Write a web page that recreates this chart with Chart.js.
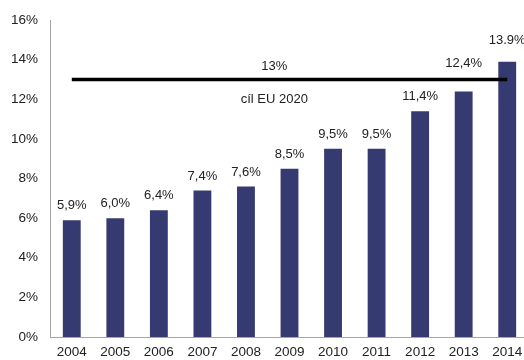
<!DOCTYPE html>
<html>
<head>
<meta charset="utf-8">
<script src="https://cdn.jsdelivr.net/npm/chart.js@4/dist/chart.umd.min.js"></script>
<style>
  html, body { margin: 0; padding: 0; background: #fff; overflow: hidden; }
  #wrap { width: 530px; height: 360px; position: relative; }
</style>
</head>
<body>
<div id="wrap"><canvas id="c"></canvas></div>
<script>
// podíl OZE na hrubé konečné spotřebě energie, 2004–2014, proti cíli EU 2020
const years = ['2004', '2005', '2006', '2007', '2008', '2009', '2010', '2011', '2012', '2013', '2014'];
const shares = [5.9, 6.0, 6.4, 7.4, 7.6, 8.5, 9.5, 9.5, 11.4, 12.4, 13.9];
const target = 13;
const targetLabel = 'cíl EU 2020';

const BAR = '#353a70';
const AXIS = '#a6a6a6';
const FONT = '"Liberation Sans", Arial, sans-serif';

// popisky hodnot: desetinná čárka, poslední rok má tečku
const valueLabels = shares.map((v, i) =>
  (i === shares.length - 1 ? v.toFixed(1) : v.toFixed(1).replace('.', ',')) + '%');

const barLabels = {
  id: 'barLabels',
  afterDatasetsDraw(chart) {
    const { ctx } = chart;
    const meta = chart.getDatasetMeta(1);
    const lineY = chart.scales.y.getPixelForValue(target);
    ctx.save();
    ctx.font = '13px ' + FONT;
    ctx.fillStyle = '#222';
    ctx.textAlign = 'center';
    ctx.textBaseline = 'bottom';
    meta.data.forEach((bar, i) => {
      let y = bar.y - 8;
      // popisek by přeškrtla cílová čára -> posunout nad ni
      if (y > lineY - 4 && y - 15 < lineY + 4) y = lineY - 10;
      if (i === meta.data.length - 1) y -= 7;
      ctx.fillText(valueLabels[i], bar.x, y);
    });

    // popis cílové čáry
    const x = chart.scales.x;
    const cx = x.getPixelForValue(4) + (x.getPixelForValue(5) - x.getPixelForValue(4)) * 0.65;
    ctx.textBaseline = 'middle';
    ctx.fillText(target + '%', cx, lineY - 13);
    ctx.fillText(targetLabel, cx, lineY + 20);
    ctx.restore();
  }
};

new Chart(document.getElementById('c'), {
  data: {
    labels: years,
    datasets: [
      {
        type: 'line',
        data: years.map(() => target),
        borderColor: '#000',
        borderWidth: 3.5,
        pointRadius: 0,
        fill: false,
        order: 0
      },
      {
        type: 'bar',
        data: shares,
        backgroundColor: BAR,
        barPercentage: 0.41,
        categoryPercentage: 1,
        order: 1
      }
    ]
  },
  options: {
    responsive: true,
    maintainAspectRatio: false,
    animation: false,
    layout: { padding: { top: 11, right: 1, left: 0, bottom: 0 } },
    plugins: { legend: { display: false }, tooltip: { enabled: false } },
    scales: {
      x: {
        grid: { display: false, drawTicks: false },
        border: { color: AXIS, width: 1 },
        ticks: { color: '#222', font: { family: FONT, size: 13.5 }, padding: 7, maxRotation: 0 },
        afterFit: s => { s.height = 23; }
      },
      y: {
        min: 0,
        max: 16,
        grid: { display: false, drawTicks: false },
        border: { color: AXIS, width: 1 },
        ticks: {
          stepSize: 2,
          color: '#222',
          font: { family: FONT, size: 13.5 },
          padding: 12,
          callback: v => v + '%'
        },
        afterFit: s => { s.width = 50; }
      }
    }
  },
  plugins: [barLabels]
});
</script>
</body>
</html>
